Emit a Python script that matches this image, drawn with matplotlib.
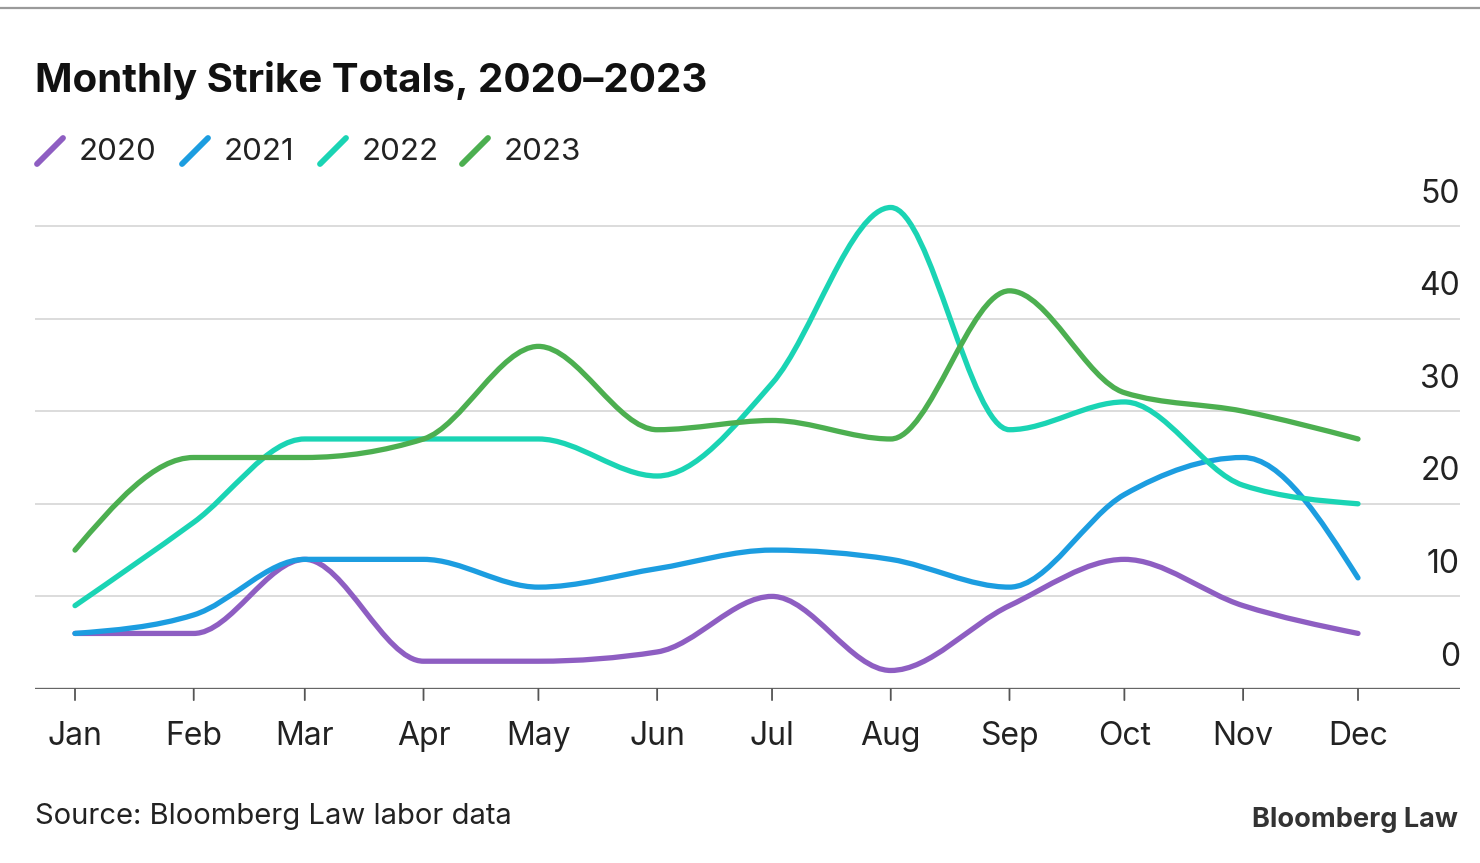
#!/usr/bin/python

import numpy as np
import matplotlib
matplotlib.use("Agg")
import matplotlib.pyplot as plt
from matplotlib.path import Path
from matplotlib.patches import PathPatch
from matplotlib.lines import Line2D

plt.rcParams['font.family'] = ['Inter', 'DejaVu Sans']

months = ["Jan", "Feb", "Mar", "Apr", "May", "Jun",
          "Jul", "Aug", "Sep", "Oct", "Nov", "Dec"]
# day of year for the first of each month (leap year)
month_days = [0, 31, 60, 91, 121, 152, 182, 213, 244, 274, 305, 335]

strikes_2020 = [6, 6, 14, 3, 3, 4, 10, 2, 9, 14, 9, 6]
strikes_2021 = [6, 8, 14, 14, 11, 13, 15, 14, 11, 21, 25, 12]
strikes_2022 = [9, 18, 27, 27, 27, 23, 33, 52, 28, 31, 22, 20]
strikes_2023 = [15, 25, 25, 27, 37, 28, 29, 27, 43, 32, 30, 27]

years = ["2020", "2021", "2022", "2023"]
colors = ["#8e5ec2", "#1c9de0", "#1ad4b4", "#4caf50"]
y_ticks = [0, 10, 20, 30, 40, 50]

W, H = 1480, 863


def monotone_path(x, y):
    """ Cubic bezier path with monotone-x tangents (no overshoot) """
    x = np.asarray(x, float)
    y = np.asarray(y, float)
    n = len(x)
    h = np.diff(x)
    s = np.diff(y) / h
    t = np.zeros(n)
    for i in range(1, n - 1):
        p = (s[i - 1] * h[i] + s[i] * h[i - 1]) / (h[i - 1] + h[i])
        t[i] = (np.sign(s[i - 1]) + np.sign(s[i])) * min(abs(s[i - 1]), abs(s[i]), 0.5 * abs(p))
    t[0] = (3 * s[0] - t[1]) / 2
    t[-1] = (3 * s[-1] - t[-2]) / 2
    verts = [(x[0], y[0])]
    codes = [Path.MOVETO]
    for i in range(n - 1):
        dx = h[i] / 3
        verts += [(x[i] + dx, y[i] + dx * t[i]),
                  (x[i + 1] - dx, y[i + 1] - dx * t[i + 1]),
                  (x[i + 1], y[i + 1])]
        codes += [Path.CURVE4] * 3
    return Path(verts, codes)


fig = plt.figure(figsize=(W / 100, H / 100), dpi=100)
fig.patch.set_facecolor("white")

# axes box in pixels: x 35..1460, y 0 at 689, 55 at ~180
px_per_day = (1358 - 75) / 335.0
x0 = -(75 - 35) / px_per_day
x1 = (1460 - 75) / px_per_day
px_per_unit = (689 - 226) / 50.0
ymax = 55
ax = fig.add_axes([35 / W, (H - 689) / H, 1425 / W, ymax * px_per_unit / H])
ax.set_xlim(x0, x1)
ax.set_ylim(0, ymax)
ax.axis("off")

# gridlines and right-side labels sitting above them
for v in y_ticks:
    if v > 0:
        ax.axhline(v, color="#dcdcdc", lw=1.4, zorder=1)
    ax.annotate(str(v), xy=(1, v), xycoords=("axes fraction", "data"),
                xytext=(0, 23), textcoords="offset points",
                ha="right", va="center", fontsize=23, color="#222222")

# baseline and month ticks
ax.axhline(0, color="#666666", lw=2.4, zorder=2)
for d, m in zip(month_days, months):
    ax.annotate("", xy=(d, 0), xytext=(0, -8), textcoords="offset points",
                arrowprops=dict(arrowstyle="-", color="#555555", lw=1.3,
                                shrinkA=0, shrinkB=0))
    ax.annotate(m, xy=(d, 0), xytext=(0, -34), textcoords="offset points",
                ha="center", va="center", fontsize=23, color="#222222")

series = [strikes_2020, strikes_2021, strikes_2022, strikes_2023]
for vals, c in zip(series, colors):
    patch = PathPatch(monotone_path(month_days, vals), facecolor="none",
                      edgecolor=c, lw=3.8, capstyle="round", joinstyle="round",
                      zorder=3)
    ax.add_patch(patch)

# top rule
fig.add_artist(Line2D([0, 1], [1 - 8 / H, 1 - 8 / H], color="#9a9a9a", lw=1.6))

fig.text(35 / W, 1 - 80 / H, "Monthly Strike Totals, 2020\u20132023",
         fontsize=29, fontweight="bold", color="#111111", va="center", ha="left")

# legend with slash swatches
legend_x = [37, 182, 320, 462]
for lx, yr, c in zip(legend_x, years, colors):
    fig.add_artist(Line2D([lx / W, (lx + 26) / W], [1 - 164 / H, 1 - 138 / H],
                          color=c, lw=4.2, solid_capstyle="round"))
    fig.text((lx + 42) / W, 1 - 152 / H, yr, fontsize=22.5, color="#222222",
             va="center", ha="left")

fig.text(35 / W, 1 - 816 / H, "Source: Bloomberg Law labor data",
         fontsize=21, color="#222222", va="center", ha="left")
fig.text(1458 / W, 1 - 820 / H, "Bloomberg Law", fontsize=19.5,
         fontweight="bold", color="#333333", va="center", ha="right")

fig.savefig("out.png", dpi=100, facecolor="white")
